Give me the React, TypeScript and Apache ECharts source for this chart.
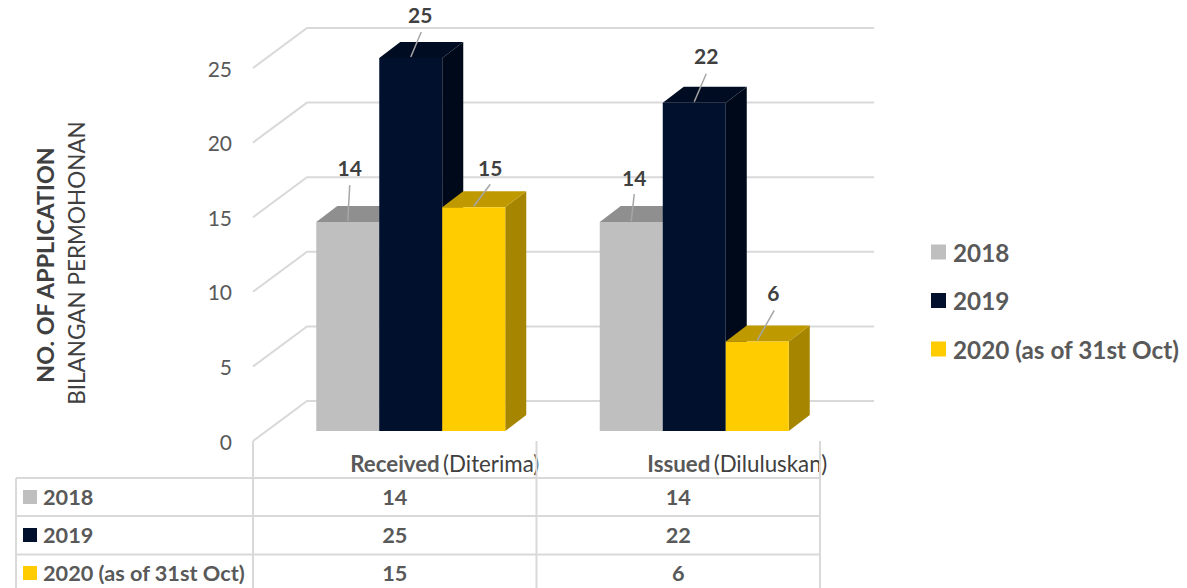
import React, { useEffect, useRef } from "react";
import * as echarts from "echarts";

const categories = ["Received", "Issued"];
const categoriesMalay = ["Diterima", "Diluluskan"];
const seriesNames = ["2018", "2019", "2020 (as of 31st Oct)"];
const values2018 = [14, 14];
const values2019 = [25, 22];
const values2020 = [15, 6];
const yTicks = [0, 5, 10, 15, 20, 25];

const allValues = [values2018, values2019, values2020];
const palette = [
  { front: "#BFBFBF", top: "#8F8F8F", side: "#8F8F8F" },
  { front: "#00102D", top: "#000C22", side: "#000919" },
  { front: "#FFCC00", top: "#BF9900", side: "#A68500" },
];
// leader/label placement relative to each bar's top-centre [lineX, lineY, textX, textY]
const labelOffsets = [
  [[2, -37, 2, -55], [3, -28, 3, -45]],
  [[10.5, -26, 9.5, -44], [12, -29, 12, -47]],
  [[16.5, -23, 16.5, -40], [17, -31, 16, -49]],
];

const FONT = "Lato, 'Noto Sans', sans-serif";
const WALL = { dx: 54, dy: -40 };
const BAR_PLANE = { dx: 16, dy: -10 };
const DEPTH = { dx: 21, dy: -16 };
const GRID_COLOR = "#D9D9D9";
const TEXT = "#595959";
const ROW_LINES = [478, 516, 554.5];
const ROW_TEXT = [497, 535, 573];

function barSeries(index: number) {
  const colors = palette[index];
  return {
    type: "custom",
    name: seriesNames[index],
    itemStyle: { color: colors.front },
    encode: { x: 0, y: 1 },
    data: allValues[index].map((v, c) => [c, v]),
    z: 3,
    renderItem: (_p: any, api: any) => {
      const cat = api.value(0);
      const val = api.value(1);
      const width = api.size([1, 0])[0] / 4.5;
      const base = api.coord([cat, 0]);
      const topPt = api.coord([cat, val]);
      const left = base[0] + BAR_PLANE.dx + (index - 1.5) * width;
      const right = left + width;
      const y0 = base[1] + BAR_PLANE.dy;
      const y1 = topPt[1] + BAR_PLANE.dy;
      const cx = (left + right) / 2;
      const off = labelOffsets[index][cat];
      return {
        type: "group",
        children: [
          {
            type: "polygon",
            shape: { points: [[right, y0], [right + DEPTH.dx, y0 + DEPTH.dy], [right + DEPTH.dx, y1 + DEPTH.dy], [right, y1]] },
            style: { fill: colors.side },
          },
          {
            type: "polygon",
            shape: { points: [[left, y1], [left + DEPTH.dx, y1 + DEPTH.dy], [right + DEPTH.dx, y1 + DEPTH.dy], [right, y1]] },
            style: { fill: colors.top },
          },
          { type: "rect", shape: { x: left, y: y1, width, height: y0 - y1 }, style: { fill: colors.front } },
          {
            type: "line",
            shape: { x1: cx + off[0], y1: y1 + off[1], x2: cx, y2: y1 - 1 },
            style: { stroke: "#A6A6A6", lineWidth: 1.5 },
          },
          {
            type: "text",
            style: {
              text: String(val),
              x: cx + off[2],
              y: y1 + off[3],
              align: "center",
              verticalAlign: "middle",
              fill: "#404040",
              font: `bold 21px ${FONT}`,
            },
          },
        ],
      };
    },
  };
}

const wallSeries = {
  type: "custom",
  name: "wall",
  silent: true,
  encode: { y: 0 },
  data: yTicks.map((t) => [0, t]),
  z: 1,
  renderItem: (_p: any, api: any) => {
    const tick = api.value(1);
    const a = api.coord([0, tick]);
    const x0 = a[0] - api.size([1, 0])[0] / 2;
    const x1 = x0 + api.size([1, 0])[0] * 2;
    return {
      type: "polyline",
      shape: { points: [[x0, a[1]], [x0 + WALL.dx, a[1] + WALL.dy], [x1 + WALL.dx, a[1] + WALL.dy]] },
      style: { stroke: GRID_COLOR, lineWidth: 2, fill: "none" },
    };
  },
};

const tableSeries = {
  type: "custom",
  name: "table",
  silent: true,
  data: seriesNames.map((_, i) => [0, i]),
  encode: { x: 0 },
  z: 2,
  renderItem: (p: any, api: any) => {
    const row = p.dataIndex;
    const size = api.size([1, 0])[0];
    const c0 = api.coord([0, 0])[0];
    const c1 = api.coord([1, 0])[0];
    const gridLeft = c0 - size / 2;
    const gridRight = c1 + size / 2;
    const children: any[] = [
      {
        type: "line",
        shape: { x1: 16, y1: ROW_LINES[row], x2: gridRight, y2: ROW_LINES[row] },
        style: { stroke: GRID_COLOR, lineWidth: 2 },
      },
      { type: "rect", shape: { x: 23, y: ROW_TEXT[row] - 7, width: 14, height: 14 }, style: { fill: palette[row].front } },
      {
        type: "text",
        style: { text: seriesNames[row], x: 43, y: ROW_TEXT[row], verticalAlign: "middle", fill: TEXT, font: `bold 21.7px ${FONT}` },
      },
    ];
    [c0, c1].forEach((c, i) => {
      children.push({
        type: "text",
        style: {
          text: String(allValues[row][i]),
          x: c,
          y: ROW_TEXT[row],
          align: "center",
          verticalAlign: "middle",
          fill: TEXT,
          font: `bold 21.7px ${FONT}`,
        },
      });
    });
    if (row === 0) {
      children.push({
        type: "line",
        shape: { x1: 16, y1: ROW_LINES[0], x2: 16, y2: 588 },
        style: { stroke: GRID_COLOR, lineWidth: 2 },
      });
      [gridLeft, gridLeft + size, gridRight].forEach((x) => {
        children.push({
          type: "line",
          shape: { x1: x, y1: 441, x2: x, y2: 588 },
          style: { stroke: GRID_COLOR, lineWidth: 2 },
        });
      });
    }
    return { type: "group", children };
  },
};

export default function App() {
  const ref = useRef<HTMLDivElement>(null);
  useEffect(() => {
    const chart = echarts.init(ref.current!, undefined, { renderer: "svg" });
    chart.setOption({
      animation: false,
      backgroundColor: "#fff",
      grid: { left: 253, top: 68, width: 567, height: 373 },
      xAxis: {
        type: "category",
        data: categories,
        axisLine: { show: false },
        axisTick: { show: false },
        axisLabel: {
          margin: 11,
          interval: 0,
          formatter: (v: string, i: number) => `{b${i}|${v}} {m|(${categoriesMalay[i]})}`,
          rich: {
            b0: { fontFamily: FONT, fontWeight: "bold", fontSize: 22.3, color: TEXT, padding: [0, 0, 0, 100] },
            b1: { fontFamily: FONT, fontWeight: "bold", fontSize: 22.3, color: TEXT, padding: [0, 0, 0, 118] },
            m: { fontFamily: FONT, fontSize: 22.3, color: "#404040" },
          },
        },
      },
      yAxis: {
        type: "value",
        min: 0,
        max: 25,
        interval: 5,
        splitLine: { show: false },
        axisLine: { show: false },
        axisTick: { show: false },
        axisLabel: { margin: 21, color: TEXT, fontFamily: FONT, fontSize: 21, padding: [2, 0, 0, 0] },
      },
      legend: {
        orient: "vertical",
        left: 926,
        top: 234,
        itemWidth: 15,
        itemHeight: 15,
        itemGap: 22.5,
        icon: "rect",
        selectedMode: false,
        data: seriesNames,
        textStyle: { fontFamily: FONT, fontWeight: "bold", fontSize: 24.3, color: TEXT, lineHeight: 26, padding: [0, 0, 0, 2] },
      },
      graphic: [
        {
          type: "text",
          x: 45,
          y: 265,
          rotation: Math.PI / 2,
          style: { text: "NO. OF APPLICATION", align: "center", verticalAlign: "middle", fill: "#404040", font: `bold 23.3px ${FONT}` },
        },
        {
          type: "text",
          x: 76,
          y: 263,
          rotation: Math.PI / 2,
          style: { text: "BILANGAN PERMOHONAN", align: "center", verticalAlign: "middle", fill: "#404040", font: `400 22.5px ${FONT}` },
        },
      ],
      series: [wallSeries, tableSeries, barSeries(0), barSeries(1), barSeries(2)],
    });
    return () => chart.dispose();
  }, []);
  return <div ref={ref} style={{ position: "absolute", left: 0, top: 0, width: 1187, height: 588 }} />;
}
